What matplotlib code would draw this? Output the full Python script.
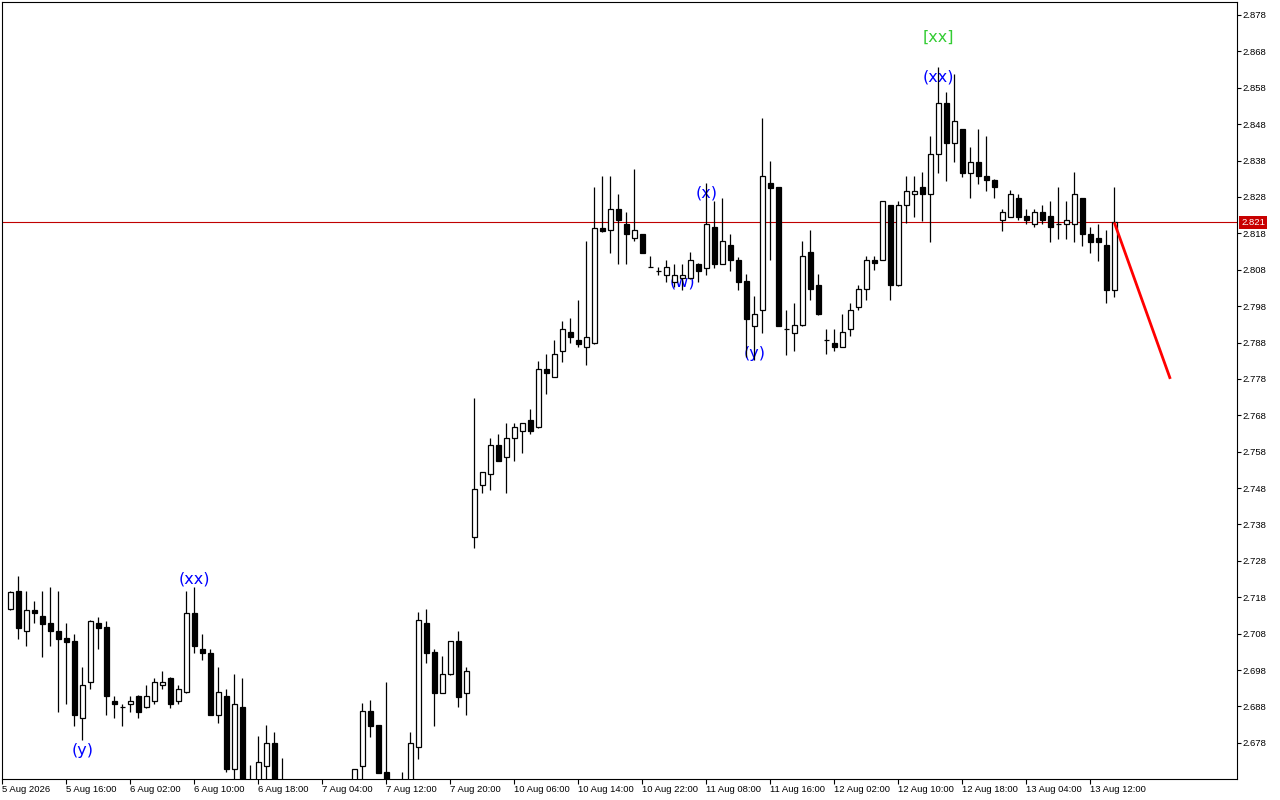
import matplotlib
matplotlib.use('Agg')
import matplotlib.pyplot as plt
import matplotlib.transforms as mtransforms

plt.rcParams['font.family'] = ['Liberation Sans', 'DejaVu Sans']

opens = [2.7147,2.7197,2.7086,2.7146,2.7128,2.7110,2.7087,2.7067,2.7060,2.6847,
         2.6946,2.7108,2.7097,2.6896,2.6878,2.6887,2.6908,2.6878,2.6896,2.6938,
         2.6958,2.6896,2.6919,2.7138,2.7037,2.7028,2.6857,2.6908,2.6708,2.6878,
         2.6640,2.6615,2.6717,2.6779,2.6625,2.6600,2.6560,2.6520,2.6550,2.6530,
         2.6560,2.6600,2.6580,2.6630,2.6717,2.6867,2.6829,2.6699,2.6640,2.6610,
         2.6650,2.6768,2.7109,2.7029,2.6918,2.6968,2.7059,2.6918,2.7346,2.7488,
         2.7518,2.7597,2.7566,2.7617,2.7637,2.7666,2.7647,2.7806,2.7786,2.7858,
         2.7908,2.7887,2.7867,2.7878,2.8196,2.8188,2.8246,2.8207,2.8167,2.8177,
         2.8087,2.8076,2.8066,2.8047,2.8056,2.8056,2.8097,2.8086,2.8197,2.8097,
         2.8148,2.8106,2.8048,2.7926,2.7968,2.8318,2.8307,2.7916,2.7907,2.7927,
         2.8129,2.8037,2.7886,2.7879,2.7868,2.7917,2.7977,2.8026,2.8107,2.8107,
         2.8257,2.8037,2.8257,2.8287,2.8306,2.8287,2.8397,2.8537,2.8427,2.8467,
         2.8347,2.8377,2.8337,2.8327,2.8216,2.8226,2.8276,2.8228,2.8207,2.8238,
         2.8228,2.8207,2.8207,2.8207,2.8277,2.8177,2.8167,2.8148,2.8024]

highs = [2.7197,2.7238,2.7197,2.7169,2.7197,2.7208,2.7197,2.7110,2.7079,2.6987,
         2.7118,2.7126,2.7116,2.6908,2.6887,2.6908,2.6910,2.6938,2.6958,2.6977,
         2.6960,2.6938,2.7197,2.7208,2.7079,2.7037,2.6987,2.6928,2.6969,2.6958,
         2.6719,2.6799,2.6829,2.6810,2.6738,2.6640,2.6600,2.6570,2.6600,2.6580,
         2.6620,2.6650,2.6660,2.6707,2.6889,2.6898,2.6830,2.6947,2.6665,2.6700,
         2.6810,2.7140,2.7148,2.7038,2.7019,2.7060,2.7087,2.6987,2.7727,2.7525,
         2.7617,2.7628,2.7658,2.7658,2.7658,2.7697,2.7829,2.7848,2.7887,2.7938,
         2.7948,2.7997,2.8159,2.8307,2.8338,2.8338,2.8288,2.8239,2.8356,2.8178,
         2.8118,2.8087,2.8107,2.8097,2.8097,2.8128,2.8098,2.8318,2.8269,2.8277,
         2.8177,2.8116,2.8067,2.8007,2.8496,2.8379,2.8308,2.7969,2.7989,2.8160,
         2.8189,2.8067,2.7917,2.7917,2.7958,2.7988,2.8037,2.8117,2.8117,2.8268,
         2.8258,2.8268,2.8338,2.8338,2.8348,2.8448,2.8636,2.8568,2.8617,2.8468,
         2.8417,2.8467,2.8448,2.8328,2.8247,2.8299,2.8288,2.8247,2.8247,2.8258,
         2.8269,2.8307,2.8269,2.8349,2.8278,2.8197,2.8207,2.8189,2.8307]

lows = [2.7146,2.7065,2.7047,2.7108,2.7016,2.7047,2.6865,2.6886,2.6827,2.6787,
        2.6927,2.7037,2.6857,2.6847,2.6827,2.6865,2.6847,2.6876,2.6887,2.6927,
        2.6876,2.6887,2.6917,2.7028,2.7007,2.6855,2.6835,2.6699,2.6660,2.6600,
        2.6590,2.6600,2.6650,2.6600,2.6580,2.6540,2.6500,2.6480,2.6510,2.6490,
        2.6530,2.6560,2.6560,2.6610,2.6650,2.6797,2.6696,2.6620,2.6590,2.6580,
        2.6630,2.6736,2.6998,2.6827,2.6918,2.6966,2.6877,2.6856,2.7316,2.7467,
        2.7475,2.7555,2.7467,2.7555,2.7577,2.7628,2.7645,2.7738,2.7784,2.7827,
        2.7878,2.7867,2.7817,2.7876,2.8185,2.8127,2.8096,2.8096,2.8158,2.8127,
        2.8087,2.8066,2.8047,2.8033,2.8024,2.8054,2.8047,2.8066,2.8086,2.8096,
        2.8077,2.8024,2.7841,2.7832,2.7907,2.8106,2.7925,2.7847,2.7857,2.7926,
        2.7997,2.7956,2.7848,2.7858,2.7867,2.7898,2.7970,2.7997,2.8078,2.8106,
        2.7996,2.8036,2.8208,2.8226,2.8215,2.8157,2.8347,2.8325,2.8377,2.8336,
        2.8276,2.8316,2.8297,2.8276,2.8187,2.8225,2.8216,2.8207,2.8197,2.8207,
        2.8157,2.8165,2.8165,2.8157,2.8146,2.8127,2.8105,2.7988,2.8006]

closes = [2.7195,2.7096,2.7146,2.7137,2.7107,2.7086,2.7066,2.7058,2.6857,2.6938,
          2.7116,2.7096,2.6908,2.6887,2.6878,2.6896,2.6865,2.6908,2.6946,2.6946,
          2.6887,2.6927,2.7138,2.7047,2.7028,2.6857,2.6919,2.6708,2.6887,2.6630,
          2.6610,2.6726,2.6779,2.6620,2.6600,2.6560,2.6520,2.6550,2.6530,2.6560,
          2.6600,2.6580,2.6630,2.6707,2.6867,2.6827,2.6698,2.6640,2.6610,2.6650,
          2.6779,2.7117,2.7028,2.6918,2.6969,2.7059,2.6907,2.6976,2.7477,2.7525,
          2.7597,2.7555,2.7617,2.7647,2.7658,2.7637,2.7806,2.7797,2.7848,2.7916,
          2.7896,2.7877,2.7896,2.8196,2.8187,2.8246,2.8216,2.8177,2.8188,2.8127,
          2.8087,2.8076,2.8087,2.8066,2.8066,2.8106,2.8077,2.8207,2.8097,2.8158,
          2.8106,2.8047,2.7945,2.7957,2.8337,2.8305,2.7926,2.7916,2.7927,2.8117,
          2.8026,2.7957,2.7886,2.7868,2.7908,2.7969,2.8027,2.8107,2.8098,2.8268,
          2.8037,2.8257,2.8297,2.8297,2.8287,2.8397,2.8537,2.8427,2.8488,2.8347,
          2.8377,2.8337,2.8326,2.8306,2.8238,2.8287,2.8226,2.8216,2.8238,2.8216,
          2.8197,2.8207,2.8216,2.8287,2.8177,2.8157,2.8157,2.8024,2.8210]

# time axis labels (bar index -> label)
tick_bars = [-1, 7, 15, 23, 31, 39, 47, 55, 63, 71, 79, 87, 95, 103, 111, 119, 127, 135]
tick_labels = ['5 Aug 2026', '5 Aug 16:00', '6 Aug 02:00', '6 Aug 10:00', '6 Aug 18:00',
               '7 Aug 04:00', '7 Aug 12:00', '7 Aug 20:00', '10 Aug 06:00', '10 Aug 14:00',
               '10 Aug 22:00', '11 Aug 08:00', '11 Aug 16:00', '12 Aug 02:00', '12 Aug 10:00',
               '12 Aug 18:00', '13 Aug 04:00', '13 Aug 12:00']

# price axis ticks
price_ticks = [2.678, 2.688, 2.698, 2.708, 2.718, 2.728, 2.738, 2.748, 2.758, 2.768,
               2.778, 2.788, 2.798, 2.808, 2.818, 2.828, 2.838, 2.848, 2.858, 2.868, 2.878]

current_price = 2.821

# wave labels: (bar index, price, text, colour)
wave_bars = [9, 23, 84, 87, 93, 116, 116]
wave_prices = [2.6760, 2.7230, 2.8047, 2.8292, 2.7850, 2.8609, 2.8719]
wave_texts = ['(y)', '(xx)', '(w)', '(x)', '(y)', '(xx)', '[xx]']
wave_colors = ['#0000FF'] * 6 + ['#33CC33']

# forecast arrow line (bar index, price)
forecast_bars = [138, 145]
forecast_prices = [2.821, 2.778]

fig = plt.figure(figsize=(12.8, 8.0), dpi=100)
ax = fig.add_axes([2/1280, 21/800, 1235/1280, 777/800])
ax.set_facecolor('white')

n = len(opens)
xs = list(range(n))
body_w = 0.62

# wicks
ax.vlines(xs, lows, highs, colors='black', linewidth=0.9, zorder=2)
# bodies
for i in xs:
    o, c = opens[i], closes[i]
    if c > o:
        fc = 'white'
    elif c < o:
        fc = 'black'
    else:
        fc = 'black'
    if c == o:
        ax.hlines(o, i - body_w/2, i + body_w/2, colors='black', linewidth=0.9, zorder=3)
    else:
        ax.bar(i, abs(c - o), bottom=min(o, c), width=body_w, facecolor=fc,
               edgecolor='black', linewidth=0.9, zorder=3)

# current price line
ax.axhline(current_price, color='#C00000', linewidth=0.8, zorder=1)

# forecast line
ax.plot(forecast_bars, forecast_prices, color='#FF0000', linewidth=2.0,
        solid_capstyle='butt', zorder=4)

# wave labels
for b, p, t, col in zip(wave_bars, wave_prices, wave_texts, wave_colors):
    ax.text(b, p, t, color=col, fontsize=11.5, ha='center', va='center',
            family=['DejaVu Sans'], zorder=1.5)

ax.set_xlim(-1.04, 153.34)
ax.set_ylim(2.66805, 2.88157)

ax.yaxis.tick_right()
ax.set_yticks(price_ticks)
ax.set_yticklabels([f'{v:.3f}' for v in price_ticks])
ax.tick_params(axis='y', direction='out', length=3, width=0.8, pad=1,
               labelsize=6.8, colors='black')
ax.set_xticks(tick_bars)
ax.set_xticklabels(tick_labels, ha='left')
ax.tick_params(axis='x', direction='out', length=3.6, width=0.8, pad=1,
               labelsize=6.8, colors='black')
for lbl in ax.get_xticklabels():
    lbl.set_horizontalalignment('left')

for sp in ax.spines.values():
    sp.set_color('black')
    sp.set_linewidth(0.8)

# current price tag on the axis
trans = mtransforms.blended_transform_factory(ax.transAxes, ax.transData)
ax.text(1.0 + 4/1235, current_price, f'{current_price:.3f}', transform=trans,
        color='white', fontsize=6.8, ha='left', va='center', zorder=10,
        clip_on=False,
        bbox=dict(boxstyle='square,pad=0.2', facecolor='#C80000', edgecolor='none'))

fig.savefig('out.png', dpi=100, facecolor='white')
